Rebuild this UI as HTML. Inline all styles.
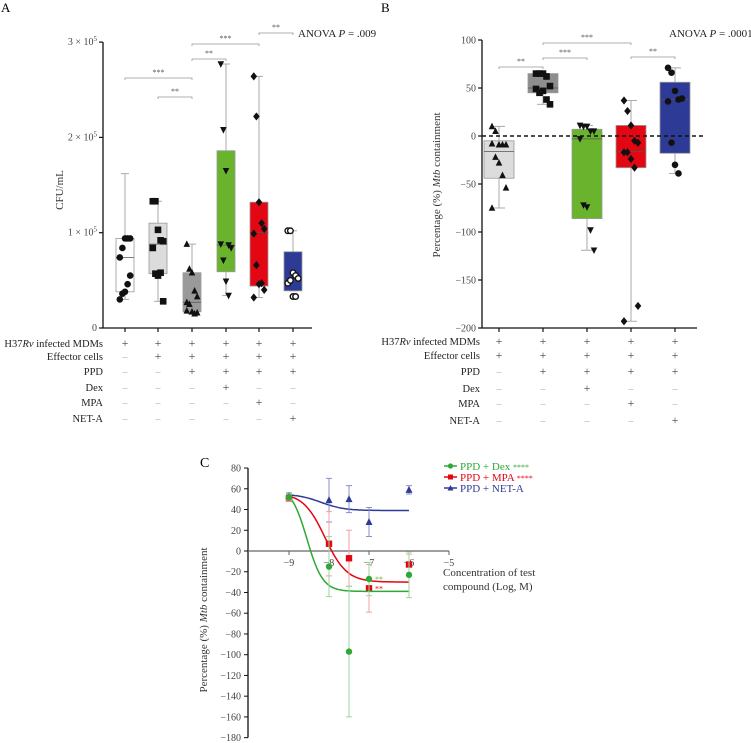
<!DOCTYPE html>
<html><head><meta charset="utf-8">
<style>
body{margin:0;background:#fff;}
svg{display:block;font-family:"Liberation Serif",serif;}
</style></head>
<body>
<svg id="fig" width="751" height="743" viewBox="0 0 751 743" xmlns="http://www.w3.org/2000/svg">
<g id="pa"></g>
<g id="pb"></g>
<g id="pc"></g>
</svg>
<script>
// ---------- Panel A data ----------
const aGroups = ["none","effector","ppd","dex","mpa","neta"];
const aQ1 = [0.38,0.57,0.17,0.59,0.44,0.39];
const aQ3 = [0.94,1.10,0.58,1.86,1.32,0.80];
const aMed = [0.74,0.88,0.27,0.87,1.00,0.50];
const aMax = [1.62,1.33,0.88,2.77,2.64,1.02];
const aMin = [0.30,0.28,0.15,0.34,0.32,0.39];
const aPts = [
 [0.30,0.36,0.38,0.46,0.55,0.74,0.84,0.94,0.94,0.94],
 [1.33,1.33,1.03,0.92,0.91,0.84,0.57,0.55,0.58,0.28],
 [0.88,0.62,0.58,0.39,0.33,0.27,0.25,0.17,0.15,0.16,0.18],
 [2.77,2.08,1.65,0.87,0.84,0.88,0.71,0.49,0.34],
 [2.64,2.22,1.32,1.10,1.04,0.99,0.66,0.46,0.47,0.40,0.32],
 [1.02,1.02,0.58,0.55,0.52,0.47,0.50,0.33,0.33]];
const aTicks = [0,1,2,3];
const aSig = [[0,2,"***",78],[1,2,"**",97],[2,3,"**",59],[2,4,"***",44],[4,5,"**",33]];
// ---------- Panel B data ----------
const bQ1 = [-44,45,-86,-33,-18];
const bQ3 = [-5,65,7,11,56];
const bMed = [-16,50,-3,-16,38];
const bMax = [10,65,11,37,71];
const bMin = [-75,33,-119,-193,-39];
const bPts = [
 [10,5,-9,-9,-9,-8,-22,-28,-41,-54,-75],
 [65,65,65,62,52,49,45,47,38,33],
 [11,10,10,5,5,-3,-72,-74,-98,-119],
 [37,26,11,-5,-7,-17,-17,-24,-33,-177,-193],
 [71,66,47,38,39,36,-7,-30,-39]];
const bTicks = [100,50,0,-50,-100,-150,-200];
const bSig = [[0,1,"**",67],[1,2,"***",58],[1,3,"***",43],[3,4,"**",57]];
// ---------- Panel C data ----------
const cX = [-9,-8,-7.5,-7,-6];
const cDex = [52,-15,-97,-27,-23];
const cDexErr = [3,29,63,16,22];
const cMpa = [51,7,-7,-36,-13];
const cMpaErr = [3,31,27,23,10];
const cNet = [53,49,50,28,59];
const cNetErr = [3,21,13,14,4];
const cYTicks = [80,60,40,20,0,-20,-40,-60,-80,-100,-120,-140,-160,-180];
const cXTicks = [-9,-8,-7,-6,-5];
// fitted curve params [top,bottom,logEC50,hill]
const cFitDex = [62,-39,-8.55,2.2];
const cFitMpa = [56,-30,-8.1,1.6];
const cFitNet = [55,39,-8.2,1.5];

const NS="http://www.w3.org/2000/svg";
function mk(parent,tag,attrs,text){const e=document.createElementNS(NS,tag);for(const k in attrs)e.setAttribute(k,attrs[k]);if(text!==undefined)e.textContent=text;parent.appendChild(e);return e;}
const fills=["#ffffff","#dcdcdc","#9a9a9a","#6ab42d","#e30613","#2e3b96"];
function marker(g,type,x,y){
  const r=3.3;let e;
  if(type==="circle"){e=mk(g,"circle",{cx:x,cy:y,r:r,fill:"#111"});}
  else if(type==="ocircle"){e=mk(g,"circle",{cx:x,cy:y,r:2.8,fill:"#fff",stroke:"#111","stroke-width":1.4});}
  else if(type==="square"){e=mk(g,"rect",{x:x-r,y:y-r,width:2*r,height:2*r,fill:"#111"});}
  else if(type==="tri"){e=mk(g,"polygon",{points:`${x},${y-r-0.5} ${x-r},${y+r-0.5} ${x+r},${y+r-0.5}`,fill:"#111"});}
  else if(type==="tridown"){e=mk(g,"polygon",{points:`${x},${y+r+0.5} ${x-r},${y-r+0.5} ${x+r},${y-r+0.5}`,fill:"#111"});}
  else {e=mk(g,"polygon",{points:`${x},${y-r-0.8} ${x+r},${y} ${x},${y+r+0.8} ${x-r},${y}`,fill:"#111"});}
  
  
}
function rowsTable(g,labelRight,xs,rowsY,signs){
  const labels=["H37Rv infected MDMs","Effector cells","PPD","Dex","MPA","NET-A"];
  labels.forEach((l,i)=>{
    let t;
    if(i===0){t=mk(g,"text",{x:labelRight,y:rowsY[i]+4,"text-anchor":"end","font-size":10.5,fill:"#222"});
      mk(t,"tspan",{},"H37");mk(t,"tspan",{"font-style":"italic"},"Rv");mk(t,"tspan",{}," infected MDMs");}
    else t=mk(g,"text",{x:labelRight,y:rowsY[i]+4,"text-anchor":"end","font-size":10.5,fill:"#222"},l);
    
    
    xs.forEach((x,j)=>{
      const s=signs[i][j];
      const e=mk(g,"text",{x:x,y:rowsY[i]+4,"text-anchor":"middle","font-size":s?12:10,fill:s?"#444":"#aaa"},s?"+":"–");
      
      
    });
  });
}
function bracket(g,x1,x2,y,lab){
  const b=mk(g,"path",{d:`M${x1} ${y+2}V${y}H${x2}V${y+2}`,stroke:"#999",fill:"none","stroke-width":0.8});
  
  
  const t=mk(g,"text",{x:(x1+x2)/2,y:y-3,"text-anchor":"middle","font-size":8,fill:"#555"},lab);
  
  
}

// ---------- Panel A ----------
(function(){
const g=document.getElementById("pa");
const x0=103,y0=328,unit=95.3;
const xs=[125,158,192,226,259,293];
const Y=v=>y0-v*unit;
const mt=["circle","square","tri","tridown","diamond","ocircle"];
const lt=mk(g,"text",{x:1,y:12,"font-size":13},"A");
const ax=mk(g,"path",{d:`M${x0} ${Y(3)}V${y0}H312`,stroke:"#111",fill:"none","stroke-width":1.3});

aTicks.forEach(v=>{
  mk(g,"line",{x1:x0-4,x2:x0,y1:Y(v),y2:Y(v),stroke:"#111","stroke-width":1.2});
  let t=mk(g,"text",{x:x0-6,y:Y(v)+3,"text-anchor":"end","font-size":10,fill:"#444"});
  if(v===0)t.textContent="0";else{mk(t,"tspan",{},v+" × 10");mk(t,"tspan",{dy:-4,"font-size":7},"5");}
  
});
xs.forEach(x=>mk(g,"line",{x1:x,x2:x,y1:y0,y2:y0+4,stroke:"#111","stroke-width":1.2}));
const yl=mk(g,"text",{x:0,y:0,transform:"translate(63,190) rotate(-90)","text-anchor":"middle","font-size":11,fill:"#333"},"CFU/mL");

aGroups.forEach((n,i)=>{
  const x=xs[i],w=18;
  mk(g,"line",{x1:x,x2:x,y1:Y(aMax[i]),y2:Y(aMin[i]),stroke:"#aaa","stroke-width":1});
  mk(g,"line",{x1:x-4,x2:x+4,y1:Y(aMax[i]),y2:Y(aMax[i]),stroke:"#aaa"});
  mk(g,"line",{x1:x-4,x2:x+4,y1:Y(aMin[i]),y2:Y(aMin[i]),stroke:"#aaa"});
  const b=mk(g,"rect",{x:x-w/2,y:Y(aQ3[i]),width:w,height:Y(aQ1[i])-Y(aQ3[i]),fill:fills[i],stroke:"#999","stroke-width":0.8});
  
  mk(g,"line",{x1:x-w/2,x2:x+w/2,y1:Y(aMed[i]),y2:Y(aMed[i]),stroke:"#555","stroke-width":0.8});
  aPts[i].forEach((v,k)=>marker(g,mt[i],x+((k%5)-2)*2.6,Y(v)));
});
aSig.forEach(s=>bracket(g,xs[s[0]],xs[s[1]],s[3],s[2]));
const an=mk(g,"text",{x:298,y:37,"font-size":11,fill:"#222"});mk(an,"tspan",{},"ANOVA ");mk(an,"tspan",{"font-style":"italic"},"P");mk(an,"tspan",{}," = .009");

rowsTable(g,103,xs,[343,356,371,387,402,418],[[1,1,1,1,1,1],[0,1,1,1,1,1],[0,0,1,1,1,1],[0,0,0,1,0,0],[0,0,0,0,1,0],[0,0,0,0,0,1]]);
})();

// ---------- Panel B ----------
(function(){
const g=document.getElementById("pb");
const x0=482,Y=v=>40+(100-v)*0.96;
const xs=[499,543,587,631,675];
const bf=["#dcdcdc","#8e8e8e","#6ab42d","#e30613","#2e3b96"];
const mt=["tri","square","tridown","diamond","circle"];
const names=["effector","ppd","dex","mpa","neta"];
const lt=mk(g,"text",{x:381,y:12,"font-size":13},"B");
const ax=mk(g,"path",{d:`M${x0} ${Y(100)}V${Y(-200)}H697`,stroke:"#111",fill:"none","stroke-width":1.3});

bTicks.forEach(v=>{
  mk(g,"line",{x1:x0-4,x2:x0,y1:Y(v),y2:Y(v),stroke:"#111","stroke-width":1.2});
  const t=mk(g,"text",{x:x0-6,y:Y(v)+3.5,"text-anchor":"end","font-size":10,fill:"#444"},v<0?"−"+(-v):String(v));
  
});
xs.forEach(x=>mk(g,"line",{x1:x,x2:x,y1:Y(-200),y2:Y(-200)+4,stroke:"#111","stroke-width":1.2}));
const yl=mk(g,"text",{x:0,y:0,transform:"translate(440,185) rotate(-90)","text-anchor":"middle","font-size":11,fill:"#333"});
mk(yl,"tspan",{},"Percentage (%) ");mk(yl,"tspan",{"font-style":"italic"},"Mtb");mk(yl,"tspan",{}," containment");

names.forEach((n,i)=>{
  const x=xs[i],w=30;
  mk(g,"line",{x1:x,x2:x,y1:Y(bMax[i]),y2:Y(bMin[i]),stroke:"#aaa"});
  mk(g,"line",{x1:x-6,x2:x+6,y1:Y(bMax[i]),y2:Y(bMax[i]),stroke:"#aaa"});
  mk(g,"line",{x1:x-6,x2:x+6,y1:Y(bMin[i]),y2:Y(bMin[i]),stroke:"#aaa"});
  const b=mk(g,"rect",{x:x-w/2,y:Y(bQ3[i]),width:w,height:Y(bQ1[i])-Y(bQ3[i]),fill:bf[i],stroke:"#999","stroke-width":0.8});
  
  mk(g,"line",{x1:x-w/2,x2:x+w/2,y1:Y(bMed[i]),y2:Y(bMed[i]),stroke:"#555","stroke-width":0.8});
  bPts[i].forEach((v,k)=>marker(g,mt[i],x+((k%5)-2)*3.5,Y(v)));
});
const dl=mk(g,"line",{x1:x0,x2:705,y1:Y(0),y2:Y(0),stroke:"#111","stroke-width":1.5,"stroke-dasharray":"4,3"});

bSig.forEach(s=>bracket(g,xs[s[0]],xs[s[1]],s[3],s[2]));
const an=mk(g,"text",{x:669,y:37,"font-size":11,fill:"#222"});mk(an,"tspan",{},"ANOVA ");mk(an,"tspan",{"font-style":"italic"},"P");mk(an,"tspan",{}," = .0001");

rowsTable(g,480,xs,[341,355,371,388,403,420],[[1,1,1,1,1],[1,1,1,1,1],[0,1,1,1,1],[0,0,1,0,0],[0,0,0,1,0],[0,0,0,0,1]]);
})();

// ---------- Panel C ----------
(function(){
const g=document.getElementById("pc");
const X=v=>289+(v+9)*40, Y=v=>551-v*1.037;
const lt=mk(g,"text",{x:200,y:467,"font-size":14},"C");
const ya=mk(g,"line",{x1:248,x2:248,y1:Y(80),y2:Y(-180),stroke:"#111","stroke-width":1.3});

const xa=mk(g,"line",{x1:248,x2:X(-5),y1:Y(0),y2:Y(0),stroke:"#666","stroke-width":1.3});

cYTicks.forEach(v=>{
  mk(g,"line",{x1:244,x2:248,y1:Y(v),y2:Y(v),stroke:"#111"});
  const t=mk(g,"text",{x:241,y:Y(v)+3.5,"text-anchor":"end","font-size":10,fill:"#444"},v<0?"−"+(-v):String(v));
  
});
cXTicks.forEach(v=>{
  mk(g,"line",{x1:X(v),x2:X(v),y1:Y(0),y2:Y(0)+4,stroke:"#666"});
  const t=mk(g,"text",{x:X(v),y:Y(0)+15,"text-anchor":"middle","font-size":10,fill:"#444"},"−"+(-v));
  
});
const yl=mk(g,"text",{x:0,y:0,transform:"translate(207,620) rotate(-90)","text-anchor":"middle","font-size":11,fill:"#333"});
mk(yl,"tspan",{},"Percentage (%) ");mk(yl,"tspan",{"font-style":"italic"},"Mtb");mk(yl,"tspan",{}," containment");

const xl=mk(g,"text",{x:443,y:576,"font-size":11,fill:"#333"});
mk(xl,"tspan",{x:443},"Concentration of test");mk(xl,"tspan",{x:443,dy:14},"compound (Log, M)");

function series(vals,errs,fit,col,lcol,type,name){
  const sg=mk(g,"g",{});
  
  let d="";
  for(let i=0;i<=60;i++){const x=-9+i*3/60;const y=fit[1]+(fit[0]-fit[1])/(1+Math.pow(10,(x-fit[2])*fit[3]));d+=(i?"L":"M")+X(x).toFixed(1)+" "+Y(y).toFixed(1);}
  const c=mk(sg,"path",{d:d,stroke:col,fill:"none","stroke-width":1.5});
  
  cX.forEach((xv,i)=>{
    const x=X(xv);
    mk(sg,"path",{d:`M${x} ${Y(vals[i]+errs[i])}V${Y(vals[i]-errs[i])}M${x-3} ${Y(vals[i]+errs[i])}H${x+3}M${x-3} ${Y(vals[i]-errs[i])}H${x+3}`,stroke:lcol,fill:"none","stroke-width":1});
    let m;
    if(type==="c")m=mk(sg,"circle",{cx:x,cy:Y(vals[i]),r:3.2,fill:col});
    else if(type==="s")m=mk(sg,"rect",{x:x-3.2,y:Y(vals[i])-3.2,width:6.4,height:6.4,fill:col});
    else m=mk(sg,"polygon",{points:`${x},${Y(vals[i])-4} ${x-3.5},${Y(vals[i])+3} ${x+3.5},${Y(vals[i])+3}`,fill:col});
    
  });
}
series(cNet,cNetErr,cFitNet,"#2e3b96","#8a90c8","t","neta");
series(cMpa,cMpaErr,cFitMpa,"#e30613","#f4a0a0","s","mpa");
series(cDex,cDexErr,cFitDex,"#2ea836","#9ed69e","c","dex");
const s1=mk(g,"text",{x:X(-7)+6,y:Y(-27)+3,"font-size":8,fill:"#6ab42d"},"**");
const s2=mk(g,"text",{x:X(-7)+6,y:Y(-36)+3,"font-size":8,fill:"#e30613"},"**");
const leg=[["PPD + Dex","****","#2ea836","c"],["PPD + MPA","****","#e30613","s"],["PPD + NET-A","","#2e3b96","t"]];
leg.forEach((l,i)=>{
  const y=466+i*11,lg=mk(g,"g",{});
  
  mk(lg,"line",{x1:444,x2:457,y1:y,y2:y,stroke:l[2],"stroke-width":1.5});
  if(l[3]==="c")mk(lg,"circle",{cx:450.5,cy:y,r:2.6,fill:l[2]});
  else if(l[3]==="s")mk(lg,"rect",{x:448,y:y-2.5,width:5,height:5,fill:l[2]});
  else mk(lg,"polygon",{points:`450.5,${y-3} 447.5,${y+2.5} 453.5,${y+2.5}`,fill:l[2]});
  const t=mk(lg,"text",{x:460,y:y+4,"font-size":11,fill:l[2]},l[0]+" ");
  if(l[1])mk(t,"tspan",{"font-size":8},l[1]);
});
})();
</script>
</body></html>
